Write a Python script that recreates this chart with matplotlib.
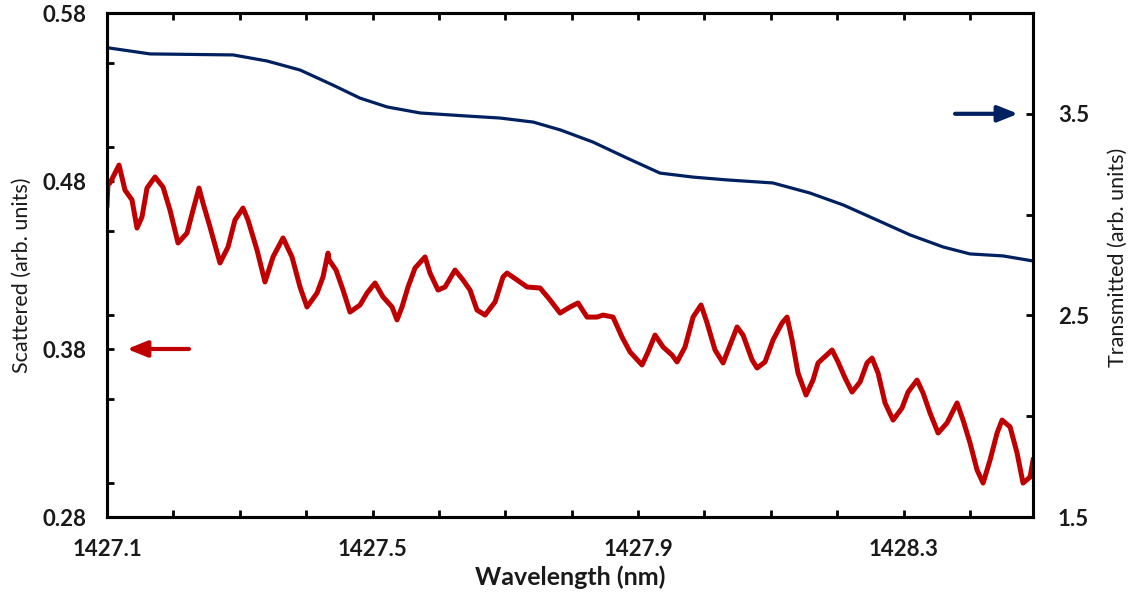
import matplotlib
matplotlib.use("Agg")
import matplotlib.pyplot as plt
from matplotlib.ticker import MultipleLocator, FixedLocator, FuncFormatter

# ---------------- data ----------------
wl_trans = [1427.100, 1427.165, 1427.290, 1427.341, 1427.391, 1427.440, 1427.481,
            1427.522, 1427.572, 1427.642, 1427.692, 1427.742, 1427.783, 1427.832,
            1427.883, 1427.933, 1427.983, 1428.034, 1428.103, 1428.159, 1428.209,
            1428.260, 1428.310, 1428.360, 1428.400, 1428.450, 1428.495]
transmitted = [3.828, 3.797, 3.792, 3.762, 3.717, 3.643, 3.578,
               3.534, 3.504, 3.489, 3.479, 3.459, 3.420, 3.360,
               3.281, 3.206, 3.186, 3.172, 3.157, 3.107, 3.048,
               2.973, 2.899, 2.839, 2.805, 2.795, 2.770]

wl_scat = [1427.1000, 1427.1015, 1427.1045, 1427.1181, 1427.1271, 1427.1377, 1427.1452,
           1427.1527, 1427.1603, 1427.1723, 1427.1844, 1427.1949, 1427.2070, 1427.2205,
           1427.2296, 1427.2386, 1427.2446, 1427.2552, 1427.2702, 1427.2823, 1427.2928,
           1427.3049, 1427.3124, 1427.3260, 1427.3380, 1427.3501, 1427.3652, 1427.3787,
           1427.3908, 1427.4013, 1427.4164, 1427.4254, 1427.4330, 1427.4345, 1427.4450,
           1427.4556, 1427.4661, 1427.4812, 1427.4917, 1427.5038, 1427.5158, 1427.5294,
           1427.5369, 1427.5444, 1427.5535, 1427.5640, 1427.5791, 1427.5866, 1427.5987,
           1427.6092, 1427.6243, 1427.6363, 1427.6469, 1427.6574, 1427.6695, 1427.6846,
           1427.6966, 1427.7026, 1427.7177, 1427.7328, 1427.7524, 1427.7674, 1427.7825,
           1427.7976, 1427.8096, 1427.8232, 1427.8382, 1427.8473, 1427.8623, 1427.8759,
           1427.8880, 1427.9060, 1427.9151, 1427.9256, 1427.9377, 1427.9512, 1427.9588,
           1427.9708, 1427.9829, 1427.9949, 1428.0040, 1428.0160, 1428.0281, 1428.0416,
           1428.0492, 1428.0582, 1428.0718, 1428.0793, 1428.0913, 1428.1034, 1428.1169,
           1428.1245, 1428.1320, 1428.1410, 1428.1531, 1428.1636, 1428.1712, 1428.1923,
           1428.2013, 1428.2119, 1428.2224, 1428.2345, 1428.2450, 1428.2525, 1428.2616,
           1428.2721, 1428.2842, 1428.2977, 1428.3068, 1428.3203, 1428.3294, 1428.3399,
           1428.3520, 1428.3655, 1428.3806, 1428.3896, 1428.4002, 1428.4107, 1428.4198,
           1428.4303, 1428.4409, 1428.4484, 1428.4605, 1428.4710, 1428.4800, 1428.4906,
           1428.4951]
scattered = [0.4657, 0.4788, 0.4788, 0.4895, 0.4746, 0.4687, 0.4520,
             0.4586, 0.4758, 0.4824, 0.4764, 0.4627, 0.4431, 0.4490,
             0.4627, 0.4758, 0.4669, 0.4526, 0.4312, 0.4407, 0.4568,
             0.4639, 0.4568, 0.4389, 0.4199, 0.4348, 0.4461, 0.4348,
             0.4169, 0.4050, 0.4133, 0.4229, 0.4371, 0.4330, 0.4270,
             0.4151, 0.4020, 0.4062, 0.4133, 0.4193, 0.4110, 0.4050,
             0.3973, 0.4050, 0.4169, 0.4282, 0.4348, 0.4252, 0.4151,
             0.4169, 0.4270, 0.4211, 0.4151, 0.4032, 0.4002, 0.4080,
             0.4229, 0.4252, 0.4211, 0.4169, 0.4163, 0.4092, 0.4014,
             0.4050, 0.4074, 0.3990, 0.3990, 0.4002, 0.3990, 0.3871,
             0.3782, 0.3705, 0.3782, 0.3883, 0.3812, 0.3764, 0.3723,
             0.3812, 0.3990, 0.4062, 0.3955, 0.3794, 0.3717, 0.3854,
             0.3931, 0.3883, 0.3735, 0.3687, 0.3723, 0.3854, 0.3955,
             0.3990, 0.3854, 0.3657, 0.3526, 0.3615, 0.3717, 0.3794,
             0.3723, 0.3627, 0.3544, 0.3604, 0.3717, 0.3746, 0.3657,
             0.3479, 0.3377, 0.3449, 0.3544, 0.3615, 0.3538, 0.3419,
             0.3300, 0.3360, 0.3479, 0.3377, 0.3240, 0.3080, 0.3002,
             0.3139, 0.3300, 0.3377, 0.3336, 0.3181, 0.3002, 0.3038,
             0.3139]

x_ticks = [1427.1, 1427.5, 1427.9, 1428.3]
left_ticks = [0.28, 0.38, 0.48, 0.58]
right_ticks = [1.5, 2.5, 3.5]

RED = "#C00000"
BLUE = "#002060"
TXT = "#1a1a1a"

FONT = ["Lato", "DejaVu Sans"]
plt.rcParams["font.family"] = FONT

fig = plt.figure(figsize=(11.36, 5.98), dpi=100)
ax = fig.add_axes([107 / 1136, 81 / 598, (1033 - 107) / 1136, (517 - 13) / 598])
ax2 = ax.twinx()

ax.plot(wl_scat, scattered, color=RED, lw=3.6, solid_joinstyle="round")
ax2.plot(wl_trans, transmitted, color=BLUE, lw=2.3)

ax.set_xlim(1427.1, 1428.495)
ax.set_ylim(0.28, 0.58)
ax2.set_ylim(1.5, 4.0)

# ticks
ax.xaxis.set_major_locator(FixedLocator(x_ticks))
ax.xaxis.set_minor_locator(MultipleLocator(0.1))
ax.xaxis.set_major_formatter(FuncFormatter(lambda v, p: f"{v:.1f}"))
ax.yaxis.set_major_locator(FixedLocator(left_ticks))
ax.yaxis.set_minor_locator(MultipleLocator(0.05))
ax.yaxis.set_major_formatter(FuncFormatter(lambda v, p: f"{v:.2f}"))
ax2.yaxis.set_major_locator(FixedLocator(right_ticks))
ax2.yaxis.set_minor_locator(MultipleLocator(0.5))
ax2.yaxis.set_major_formatter(FuncFormatter(lambda v, p: f"{v:.1f}"))

tick_kw = dict(direction="in", length=5, width=2, color="black")
ax.tick_params(axis="x", which="both", top=True, bottom=True, **tick_kw)
ax.tick_params(axis="x", which="major", pad=16)
ax.tick_params(axis="y", which="both", left=True, right=False, **tick_kw)
ax.tick_params(axis="y", which="major", pad=15)
ax2.tick_params(axis="y", which="both", right=True, left=False, **tick_kw)
ax2.tick_params(axis="y", which="major", pad=18)

for a in (ax, ax2):
    for s in a.spines.values():
        s.set_linewidth(2.2)
        s.set_color("black")

for lab in ax.get_xticklabels() + ax.get_yticklabels() + ax2.get_yticklabels():
    lab.set_fontweight("bold")
    lab.set_fontsize(16)
    lab.set_color(TXT)

ax.set_xlabel("Wavelength (nm)", fontsize=18, fontweight="bold", color=TXT, labelpad=4)
ax.set_ylabel("Scattered (arb. units)", fontsize=15.5, color=TXT,
              va="center", ha="center")
ax.yaxis.set_label_coords(-0.0918, 0.48)
ax2.set_ylabel("Transmitted (arb. units)", fontsize=15.5, color=TXT, rotation=90,
               va="center", ha="center")
ax2.yaxis.set_label_coords(1.0918, 0.516)

# arrows indicating axes
arrow_kw = dict(arrowstyle="-|>,head_length=0.55,head_width=0.22", lw=3,
                mutation_scale=22, shrinkA=0, shrinkB=0)
ax.annotate("", xy=(1427.130, 0.38), xytext=(1427.2235, 0.38),
            arrowprops=dict(color=RED, **arrow_kw))
ax2.annotate("", xy=(1428.4725, 3.5), xytext=(1428.3776, 3.5),
             arrowprops=dict(color=BLUE, **arrow_kw))

fig.savefig("out.png", dpi=100)
